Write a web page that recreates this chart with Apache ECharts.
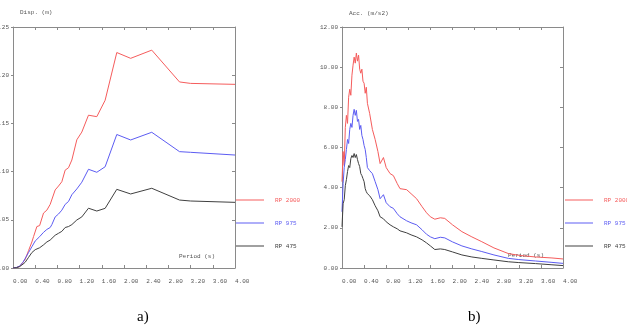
<!DOCTYPE html>
<html>
<head>
<meta charset="utf-8">
<script src="https://cdn.jsdelivr.net/npm/echarts@6/dist/echarts.min.js"></script>
<style>
  html, body { margin: 0; padding: 0; background: #fff; }
  #chart { width: 627px; height: 327px; }
</style>
</head>
<body>
<div id="chart"></div>
<script>
// a) spectral displacement
const dispPeriods = [0, 0.06, 0.12, 0.18, 0.22, 0.28, 0.34, 0.37, 0.40, 0.43, 0.48, 0.55, 0.61, 0.67, 0.70, 0.76, 0.82, 0.88, 0.94, 1.00, 1.06, 1.15, 1.24, 1.36, 1.51, 1.66, 1.87, 2.12, 2.50, 3.00, 3.20, 4.00];
const dispRP2000 = [0, 0.0005, 0.0015, 0.006, 0.009, 0.018, 0.027, 0.0325, 0.034, 0.043, 0.044, 0.057, 0.060, 0.066, 0.066, 0.081, 0.085, 0.0895, 0.1015, 0.104, 0.112, 0.133, 0.141, 0.1585, 0.157, 0.174, 0.2235, 0.2175, 0.226, 0.193, 0.1915, 0.1905];
const dispRP975 = [0, 0.0005, 0.002, 0.006, 0.010, 0.016, 0.022, 0.024, 0.028, 0.030, 0.0325, 0.037, 0.040, 0.042, 0.045, 0.053, 0.056, 0.060, 0.066, 0.069, 0.076, 0.082, 0.089, 0.1024, 0.0993, 0.105, 0.1385, 0.1328, 0.1408, 0.1207, 0.1200, 0.1172];
const dispRP475 = [0, 0.0003, 0.0015, 0.004, 0.006, 0.011, 0.016, 0.017, 0.019, 0.020, 0.021, 0.024, 0.027, 0.029, 0.031, 0.034, 0.036, 0.038, 0.042, 0.043, 0.045, 0.0498, 0.053, 0.062, 0.0591, 0.0619, 0.0816, 0.0768, 0.0827, 0.0705, 0.0695, 0.0681];

// b) spectral acceleration
const accPeriods = [0, 0.02, 0.04, 0.06, 0.08, 0.10, 0.12, 0.14, 0.16, 0.18, 0.20, 0.22, 0.24, 0.26, 0.28, 0.30, 0.32, 0.34, 0.36, 0.38, 0.40, 0.42, 0.44, 0.46, 0.50, 0.55, 0.60, 0.65, 0.69, 0.75, 0.80, 0.87, 0.93, 1.00, 1.05, 1.17, 1.25, 1.35, 1.45, 1.53, 1.60, 1.68, 1.78, 1.86, 2.00, 2.17, 2.35, 2.53, 2.75, 3.01, 3.20, 3.50, 3.80, 4.00];
const accRP2000 = [4.3, 5.8, 5.1, 7.0, 7.6, 7.2, 8.5, 8.9, 8.6, 9.6, 10.1, 10.5, 10.2, 10.7, 10.3, 10.6, 9.9, 9.7, 9.9, 9.3, 9.2, 8.7, 9.0, 8.2, 7.7, 6.9, 6.4, 5.8, 5.2, 5.5, 5.0, 4.7, 4.6, 4.2, 3.95, 3.9, 3.7, 3.45, 3.05, 2.75, 2.55, 2.43, 2.5, 2.47, 2.15, 1.81, 1.55, 1.31, 1.0, 0.72, 0.63, 0.55, 0.5, 0.45];
const accRP975 = [2.8, 4.2, 5.0, 5.4, 5.9, 6.4, 6.2, 6.9, 7.2, 7.0, 7.6, 7.9, 7.6, 7.85, 7.3, 7.4, 6.9, 7.1, 6.6, 6.4, 6.1, 5.9, 5.5, 5.0, 4.85, 4.7, 4.3, 3.9, 3.45, 3.65, 3.25, 3.05, 2.97, 2.7, 2.55, 2.35, 2.25, 2.15, 1.9, 1.68, 1.55, 1.46, 1.53, 1.5, 1.3, 1.1, 0.95, 0.82, 0.65, 0.48, 0.42, 0.35, 0.28, 0.23];
const accRP475 = [2.05, 3.2, 3.4, 4.1, 4.4, 4.8, 5.1, 5.0, 5.45, 5.6, 5.5, 5.7, 5.5, 5.65, 5.4, 5.2, 5.05, 4.7, 4.6, 4.45, 4.3, 3.95, 3.8, 3.7, 3.6, 3.4, 3.1, 2.85, 2.55, 2.45, 2.3, 2.15, 2.05, 1.95, 1.85, 1.75, 1.65, 1.55, 1.4, 1.25, 1.1, 0.92, 0.95, 0.92, 0.8, 0.65, 0.55, 0.48, 0.4, 0.31, 0.27, 0.22, 0.16, 0.12];

const seriesNames = ["RP 2000", "RP 975", "RP 475"];
const seriesColors = ["#f55c5c", "#5c5cf2", "#404040"];

const mono = "Liberation Mono";
const axisGray = "#8a8a8a";
const labelGray = "#555";

function pairs(xs, ys) {
  return xs.map((x, i) => [x, ys[i]]);
}

function axesFor(grid, yMax, yStep) {
  const xBase = {
    type: "value", gridIndex: grid, min: 0, max: 4, interval: 0.4,
    splitLine: { show: false },
    axisLine: { show: true, onZero: false, lineStyle: { color: axisGray } }
  };
  const yBase = {
    type: "value", gridIndex: grid, min: 0, max: yMax, interval: yStep,
    splitLine: { show: false },
    axisLine: { show: true, onZero: false, lineStyle: { color: axisGray } }
  };
  return {
    x: [
      Object.assign({}, xBase, {
        position: "bottom",
        axisTick: { inside: true, length: 3, lineStyle: { color: axisGray } },
        axisLabel: {
          margin: 10, align: "left", fontFamily: mono, fontSize: 6, color: labelGray,
          formatter: v => v.toFixed(2)
        }
      }),
      Object.assign({}, xBase, {
        position: "top",
        axisTick: { inside: true, length: 3, lineStyle: { color: axisGray } },
        axisLabel: { show: false }
      })
    ],
    y: [
      Object.assign({}, yBase, {
        position: "left",
        axisTick: { length: 2, lineStyle: { color: axisGray } },
        axisLabel: {
          margin: 4, fontFamily: mono, fontSize: 6, color: labelGray,
          formatter: v => v.toFixed(2)
        }
      }),
      Object.assign({}, yBase, {
        position: "right",
        axisTick: { inside: true, length: 3, lineStyle: { color: axisGray } },
        axisLabel: { show: false }
      })
    ]
  };
}

const leftAxes = axesFor(0, 0.25, 0.05);
const rightAxes = axesFor(1, 12, 2);

function lineSeries(grid, xs, ys, k) {
  return {
    name: seriesNames[k],
    type: "line",
    xAxisIndex: grid * 2,
    yAxisIndex: grid * 2,
    data: pairs(xs, ys),
    showSymbol: false,
    symbol: "none",
    silent: true,
    lineStyle: { width: 1, color: seriesColors[k] },
    itemStyle: { color: seriesColors[k] }
  };
}

function legendAt(left) {
  return {
    orient: "vertical",
    left: left,
    top: 196,
    padding: 0,
    icon: "rect",
    itemWidth: 28,
    itemHeight: 1,
    itemGap: 15,
    selectedMode: false,
    textStyle: { fontFamily: mono, fontSize: 6, lineHeight: 8, padding: [0, 0, 0, 6] },
    data: seriesNames.map((n, i) => ({ name: n, textStyle: { color: seriesColors[i] } }))
  };
}

const chart = echarts.init(document.getElementById("chart"), null, { renderer: "canvas" });
chart.setOption({
  backgroundColor: "#fff",
  animation: false,
  grid: [
    { left: 13, top: 27, width: 222, height: 241, outerBoundsMode: "none", containLabel: false },
    { left: 342, top: 27, width: 221, height: 241, outerBoundsMode: "none", containLabel: false }
  ],
  xAxis: leftAxes.x.concat(rightAxes.x),
  yAxis: leftAxes.y.concat(rightAxes.y),
  legend: [legendAt(236), legendAt(565)],
  series: [
    lineSeries(0, dispPeriods, dispRP2000, 0),
    lineSeries(0, dispPeriods, dispRP975, 1),
    lineSeries(0, dispPeriods, dispRP475, 2),
    lineSeries(1, accPeriods, accRP2000, 0),
    lineSeries(1, accPeriods, accRP975, 1),
    lineSeries(1, accPeriods, accRP475, 2)
  ],
  graphic: [
    { type: "text", left: 20, top: 9, style: { text: "Disp. (m)", font: "6px " + mono, fill: labelGray } },
    { type: "text", left: 349, top: 10, style: { text: "Acc. (m/s2)", font: "6px " + mono, fill: labelGray } },
    { type: "text", left: 179, top: 253, style: { text: "Period (s)", font: "6px " + mono, fill: labelGray } },
    { type: "text", left: 508, top: 252, style: { text: "Period (s)", font: "6px " + mono, fill: labelGray } },
    { type: "text", left: 137, top: 310, style: { text: "a)", font: "15px 'Liberation Serif'", fill: "#000" } },
    { type: "text", left: 468, top: 310, style: { text: "b)", font: "15px 'Liberation Serif'", fill: "#000" } }
  ]
});
</script>
</body>
</html>
